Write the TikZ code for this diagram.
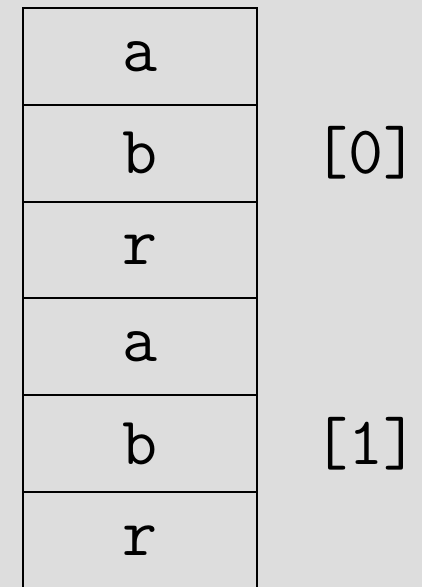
\documentclass[tikz,border=0pt]{standalone}
\definecolor{panelgray}{RGB}{221, 221, 221}
\usetikzlibrary{positioning}

\begin{document}
\begin{tikzpicture}[x=1pt, y=1pt,
    cell/.style={draw, line width=2pt, minimum width=234pt, minimum height=96.8pt,
                 inner sep=0pt, outer sep=0pt, font=\ttfamily\fontsize{68}{70}\selectfont},
    index/.style={inner sep=0pt, outer sep=0pt, font=\ttfamily\fontsize{68}{70}\selectfont}]
    % Background
    \fill[panelgray] (0, 0) rectangle (422, -587);
    \useasboundingbox (0, 0) rectangle (422, -587);

    % Element [0]
    \node[cell] (a0) at (140, -56.4) {a};
    \node[cell, below=0pt of a0] (b0) {b};
    \node[cell, below=0pt of b0] (r0) {r};

    % Element [1]
    \node[cell, below=0pt of r0] (a1) {a};
    \node[cell, below=0pt of a1] (b1) {b};
    \node[cell, below=0pt of b1] (r1) {r};

    % Indices
    \node[index, right=56pt of b0] (i0) {[0]};
    \node[index, right=56pt of b1] (i1) {[1]};
\end{tikzpicture}
\end{document}
